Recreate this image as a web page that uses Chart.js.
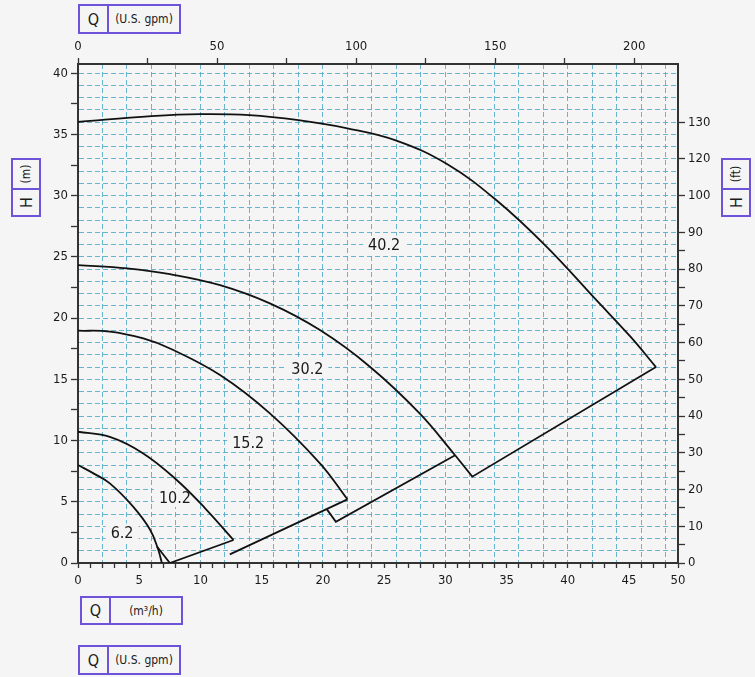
<!DOCTYPE html>
<html>
<head>
<meta charset="utf-8">
<script src="https://cdn.jsdelivr.net/npm/chart.js@4.4.1/dist/chart.umd.min.js"></script>
<style>
html,body{margin:0;padding:0;background:#f5f5f5;}
#wrap{position:relative;width:755px;height:677px;overflow:hidden;font-family:"DejaVu Sans Condensed","DejaVu Sans",sans-serif;color:#1a1a1a;}
#c{position:absolute;left:0;top:0;}
.box{position:absolute;box-sizing:border-box;border:2px solid #6e52d9;display:flex;background:#f5f5f5;}
.h .c1{width:27px;border-right:2px solid #6e52d9;display:flex;align-items:center;justify-content:center;font-size:16px;}
.h .c2{flex:1;display:flex;align-items:center;justify-content:center;font-size:12px;}
.v{flex-direction:column;}
.v .c1{height:28px;border-bottom:2px solid #6e52d9;display:flex;align-items:center;justify-content:center;font-size:12px;}
.v .c2{flex:1;display:flex;align-items:center;justify-content:center;font-size:16px;}
.rot{display:inline-block;transform:rotate(-90deg);white-space:nowrap;}
</style>
</head>
<body>
<div id="wrap">
  <canvas id="c" width="755" height="677"></canvas>
  <div class="box h" style="left:78px;top:4px;width:103px;height:30px;"><div class="c1">Q</div><div class="c2">(U.S. gpm)</div></div>
  <div class="box h" style="left:80px;top:596px;width:103px;height:29px;"><div class="c1">Q</div><div class="c2">(m³/h)</div></div>
  <div class="box h" style="left:78px;top:645px;width:103px;height:30px;"><div class="c1">Q</div><div class="c2">(U.S. gpm)</div></div>
  <div class="box v" style="left:11px;top:158px;width:30px;height:59px;"><div class="c1"><span class="rot">(m)</span></div><div class="c2"><span class="rot">H</span></div></div>
  <div class="box v" style="left:721px;top:158px;width:30px;height:59px;"><div class="c1"><span class="rot">(ft)</span></div><div class="c2"><span class="rot">H</span></div></div>
</div>
<script>
// ---- Data (Q in m3/h, H in m) ----
const q62 = [0, 1.3, 2.6, 4.5, 5.9, 6.56, 6.85];
const h62 = [8.0, 7.3, 6.5, 4.6, 2.7, 1.06, 0];
const q102 = [0, 2.6, 5.33, 8.06, 10.4, 12.7];
const h102 = [10.72, 10.3, 8.95, 6.78, 4.45, 1.88];
const q152 = [0, 2.6, 5.33, 7.51, 11.6, 15.67, 19.76, 22.0];
const h152 = [18.97, 18.9, 18.34, 17.52, 15.35, 12.22, 8.14, 5.2];
const q302 = [0, 4.0, 7.51, 11.6, 15.67, 19.76, 23.84, 27.9, 30.8];
const h302 = [24.33, 24.06, 23.59, 22.69, 21.2, 19.02, 16.03, 12.22, 8.8];
const q402 = [0, 6.0, 10.0, 14.0, 18.0, 22.0, 26.0, 30.1, 34.2, 38.3, 42.3, 45.1, 47.2];
const h402 = [36.03, 36.49, 36.65, 36.57, 36.16, 35.5, 34.5, 32.6, 29.6, 25.8, 21.5, 18.5, 16.0];
// boundary (end-of-curve) segments
const qEnd62 = [6.45, 7.5, 12.7];
const hEnd62 = [1.35, 0, 1.88];
const qEnd102 = [12.4, 22.0];
const hEnd102 = [0.7, 5.2];
const qEnd152 = [20.3, 21.06, 30.8];
const hEnd152 = [4.42, 3.37, 8.8];
const qEnd302 = [30.8, 32.2, 47.2];
const hEnd302 = [8.8, 7.05, 16.0];
// curve labels
const curveNames = ['40.2', '30.2', '15.2', '10.2', '6.2'];
const labelQ = [25.0, 18.73, 13.9, 7.92, 3.6];
const labelH = [26.0, 15.85, 9.84, 5.32, 2.49];
// tick labels
const xLabelValues = [0, 5, 10, 15, 20, 25, 30, 35, 40, 45, 49];
const xLabelTexts = ['0', '5', '10', '15', '20', '25', '30', '35', '40', '45', '50'];
const yLabelValues = [0, 5, 10, 15, 20, 25, 30, 35, 40];
const gpmLabelValues = [0, 50, 100, 150, 200];
const gpmMinorValues = [25, 75, 125, 175];
const ftLabelValues = [0, 10, 20, 30, 40, 50, 60, 70, 80, 90, 100, 110, 120];
const ftLabelTexts = ['0', '10', '20', '30', '40', '50', '60', '70', '80', '90', '100', '120', '130'];
const ftMinorValues = [5, 15, 25, 35, 45, 55, 65, 75, 85];

// ---- scale ranges ----
const X_MAX = 49, Y_MAX = 40.75;
const M3H_PER_GPM = 0.22712, M_PER_FT = 0.3;

const FONT = '"DejaVu Sans Condensed","DejaVu Sans",sans-serif';
const GRID = 'rgba(70,165,200,0.8)';
const AXIS = '#333';
const BG = '#f5f5f5';
const TXT = '#1a1a1a';
Chart.defaults.font.family = FONT;
Chart.defaults.color = TXT;

const pts = (q, h) => q.map((v, i) => ({x: v, y: h[i]}));
const curve = (q, h) => ({data: pts(q, h), showLine: true, pointRadius: 0, borderColor: '#111', borderWidth: 1.8, tension: 0.4, fill: false});
const seg = (q, h) => ({data: pts(q, h), showLine: true, pointRadius: 0, borderColor: '#111', borderWidth: 1.8, tension: 0, fill: false});

const xMinor = []; for (let v = 0; v <= X_MAX; v++) xMinor.push(v);
const yTicks = []; for (let v = 0; v <= 40; v += 0.5) { if (Number.isInteger(v) || v % 2.5 === 0) yTicks.push(v); }

const labelPlugin = {
  id: 'curveLabels',
  beforeDatasetsDraw(chart) {
    const {ctx, scales: {x, y}} = chart;
    ctx.save();
    ctx.font = '16px ' + FONT;
    ctx.textAlign = 'center';
    ctx.textBaseline = 'middle';
    curveNames.forEach((t, i) => {
      const px = x.getPixelForValue(labelQ[i]);
      const py = y.getPixelForValue(labelH[i]);
      const w = ctx.measureText(t).width;
      ctx.fillStyle = BG;
      ctx.fillRect(px - w / 2 - 5, py - 9, w + 10, 18);
      ctx.fillStyle = TXT;
      ctx.fillText(t, px, py + 1);
    });
    ctx.restore();
  }
};

new Chart(document.getElementById('c'), {
  type: 'scatter',
  data: {
    datasets: [
      curve(q402, h402), curve(q302, h302), curve(q152, h152), curve(q102, h102), curve(q62, h62),
      seg(qEnd62, hEnd62), seg(qEnd102, hEnd102), seg(qEnd152, hEnd152), seg(qEnd302, hEnd302)
    ]
  },
  plugins: [labelPlugin],
  options: {
    responsive: false,
    animation: false,
    events: [],
    layout: {padding: 0},
    plugins: {legend: {display: false}, tooltip: {enabled: false}},
    scales: {
      x: {
        type: 'linear', axis: 'x', position: 'bottom', min: 0, max: X_MAX,
        afterBuildTicks: s => { s.ticks = xMinor.map(v => ({value: v})); },
        afterFit: s => { s.height = 114; },
        grid: {
          color: c => (c.tick && c.tick.value % 2 === 0 && c.tick.value > 0 && c.tick.value < X_MAX) ? GRID : 'rgba(0,0,0,0)',
          lineWidth: 1, tickColor: AXIS, tickLength: 5, tickWidth: 1.3
        },
        border: {display: true, color: AXIS, width: 2, dash: [5, 3]},
        ticks: {
          autoSkip: false, maxRotation: 0, padding: 5, font: {size: 13}, color: TXT,
          callback: v => { const i = xLabelValues.indexOf(v); return i >= 0 ? xLabelTexts[i] : ''; }
        }
      },
      y: {
        type: 'linear', axis: 'y', position: 'left', min: 0, max: Y_MAX,
        afterBuildTicks: s => { s.ticks = yTicks.map(v => ({value: v})); },
        afterFit: s => { s.width = 78; },
        grid: {
          color: c => (c.tick && Number.isInteger(c.tick.value) && c.tick.value > 0) ? GRID : 'rgba(0,0,0,0)',
          lineWidth: 1,
          tickColor: c => (c.tick && c.tick.value % 2.5 === 0) ? AXIS : 'rgba(0,0,0,0)',
          tickLength: 7, tickWidth: 1.3
        },
        border: {display: true, color: AXIS, width: 2, dash: [5, 3]},
        ticks: {
          autoSkip: false, padding: 3, font: {size: 13}, color: TXT,
          callback: v => yLabelValues.includes(v) ? String(v) : ''
        }
      },
      x2: {
        type: 'linear', axis: 'x', position: 'top', min: 0, max: X_MAX / M3H_PER_GPM,
        afterBuildTicks: s => { s.ticks = gpmLabelValues.concat(gpmMinorValues).sort((a, b) => a - b).map(v => ({value: v})); },
        afterFit: s => { s.height = 64; },
        grid: {drawOnChartArea: false, tickColor: AXIS, tickLength: 6, tickWidth: 1.3},
        border: {display: true, color: AXIS, width: 2},
        ticks: {
          autoSkip: false, maxRotation: 0, padding: 4, font: {size: 13}, color: TXT,
          callback: v => gpmLabelValues.includes(v) ? String(v) : ''
        }
      },
      y2: {
        type: 'linear', axis: 'y', position: 'right', min: 0, max: Y_MAX / M_PER_FT,
        afterBuildTicks: s => { s.ticks = ftLabelValues.concat(ftMinorValues).sort((a, b) => a - b).map(v => ({value: v})); },
        afterFit: s => { s.width = 77; },
        grid: {drawOnChartArea: false, tickColor: AXIS, tickLength: 7, tickWidth: 1.3},
        border: {display: true, color: AXIS, width: 2},
        ticks: {
          autoSkip: false, padding: 3, font: {size: 13}, color: TXT,
          callback: v => { const i = ftLabelValues.indexOf(v); return i >= 0 ? ftLabelTexts[i] : ''; }
        }
      }
    }
  }
});
</script>
</body>
</html>
